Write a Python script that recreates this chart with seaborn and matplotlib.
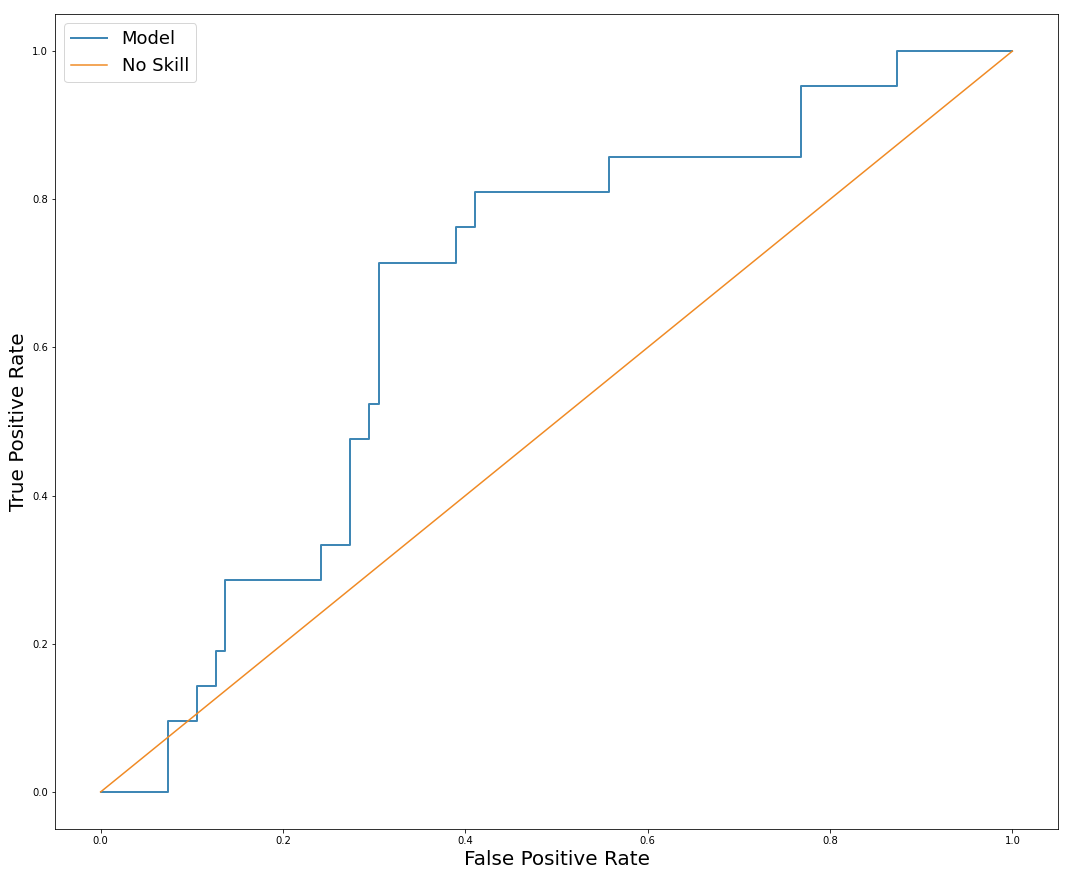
import numpy as np
import pandas as pd
import matplotlib
matplotlib.use('Agg')
import matplotlib.pyplot as plt
import seaborn as sns

# ROC curve points (false positive rate, true positive rate)
fpr = [0.0, 0.0737, 0.0737, 0.1053, 0.1053, 0.1263, 0.1263, 0.1368, 0.1368,
       0.2421, 0.2421, 0.2737, 0.2737, 0.2947, 0.2947, 0.3053, 0.3053,
       0.3895, 0.3895, 0.4105, 0.4105, 0.5579, 0.5579, 0.7684, 0.7684,
       0.8737, 0.8737, 1.0]
tpr = [0.0, 0.0, 0.0952, 0.0952, 0.1429, 0.1429, 0.1905, 0.1905, 0.2857,
       0.2857, 0.3333, 0.3333, 0.4762, 0.4762, 0.5238, 0.5238, 0.7143,
       0.7143, 0.7619, 0.7619, 0.8095, 0.8095, 0.8571, 0.8571, 0.9524,
       0.9524, 1.0, 1.0]

# no-skill reference line
ns_fpr = [0.0, 1.0]
ns_tpr = [0.0, 1.0]

model_df = pd.DataFrame({'fpr': fpr, 'tpr': tpr})
ns_df = pd.DataFrame({'fpr': ns_fpr, 'tpr': ns_tpr})

fig, ax = plt.subplots(figsize=(1076 / 72, 877 / 72), dpi=72)
fig.subplots_adjust(left=0.0511, right=0.9833, top=0.984, bottom=0.0547)

sns.lineplot(data=model_df, x='fpr', y='tpr', sort=False, estimator=None,
             color='#3f87b5', linewidth=2, label='Model', ax=ax)
sns.lineplot(data=ns_df, x='fpr', y='tpr', sort=False, estimator=None,
             color='#f08a24', linewidth=1.5, label='No Skill', ax=ax)

ax.set_xlabel('False Positive Rate', fontsize=20)
ax.set_ylabel('True Positive Rate', fontsize=20)
ax.tick_params(labelsize=10)
ax.legend(loc='upper left', fontsize=18)

plt.savefig('out.png', dpi=72)
